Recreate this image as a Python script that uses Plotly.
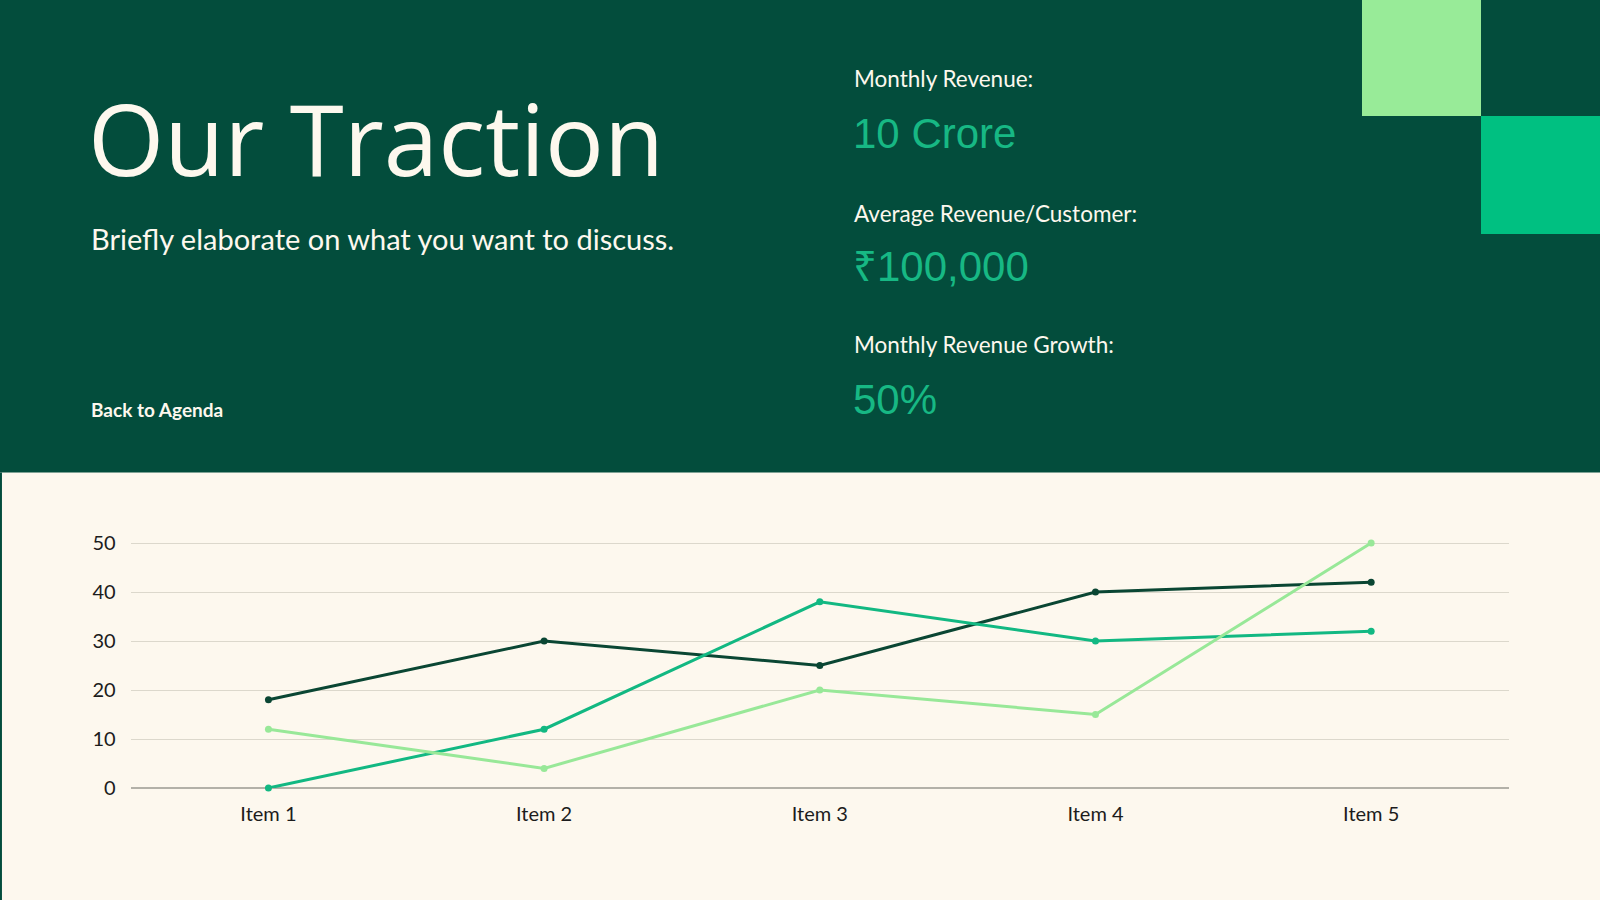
import plotly.graph_objects as go

# chart data
items = ["Item 1", "Item 2", "Item 3", "Item 4", "Item 5"]
series_dark = [18, 30, 25, 40, 42]
series_mid = [0, 12, 38, 30, 32]
series_light = [12, 4, 20, 15, 50]
y_ticks = [0, 10, 20, 30, 40, 50]

# slide text
title = "Our Traction"
subtitle = "Briefly elaborate on what you want to discuss."
back_link = "Back to Agenda"
stat_labels = ["Monthly Revenue:", "Average Revenue/Customer:", "Monthly Revenue Growth:"]
stat_values = ["10 Crore", "₹100,000", "50%"]

W, H = 1600, 900
DARK = "#034d3c"
CREAM = "#fdf8ee"
NUM_GREEN = "#17b884"


def fx(px):
    return px / W


def fy(py):
    # pixel from top -> paper fraction from bottom
    return 1 - py / H


fig = go.Figure()

lines = [
    (series_dark, "#0a4633"),
    (series_mid, "#12b882"),
    (series_light, "#98e898"),
]
for vals, col in lines:
    fig.add_trace(go.Scatter(
        x=items, y=vals, mode="lines+markers",
        line=dict(color=col, width=3),
        marker=dict(color=col, size=7),
        cliponaxis=False, hoverinfo="x+y",
    ))

# background blocks
shapes = [
    dict(type="rect", xref="paper", yref="paper", x0=0, x1=1, y0=fy(472.5), y1=1,
         fillcolor=DARK, line_width=0, layer="below"),
    dict(type="rect", xref="paper", yref="paper", x0=fx(1362), x1=fx(1481), y0=fy(116), y1=1,
         fillcolor="#98eb98", line_width=0, layer="below"),
    dict(type="rect", xref="paper", yref="paper", x0=fx(1481), x1=1, y0=fy(234), y1=fy(116),
         fillcolor="#00c081", line_width=0, layer="below"),
    dict(type="line", xref="paper", yref="paper", x0=0.0006, x1=0.0006, y0=0, y1=fy(472.5),
         line=dict(color=DARK, width=2), layer="below"),
]

annotations = [
    dict(text=title, x=fx(86), y=fy(138), xanchor="left", yanchor="middle",
         font=dict(family="Open Sans", size=98, color=CREAM)),
    dict(text=subtitle, x=fx(89), y=fy(238), xanchor="left", yanchor="middle",
         font=dict(family="Lato", size=29, color=CREAM)),
    dict(text="<b>" + back_link + "</b>", x=fx(89), y=fy(410), xanchor="left", yanchor="middle",
         font=dict(family="Lato", size=19, color=CREAM)),
]
label_y = [79, 213, 344]
value_y = [134, 267, 399]
for lab, val, ly, vy in zip(stat_labels, stat_values, label_y, value_y):
    annotations.append(dict(text=lab, x=fx(852), y=fy(ly), xanchor="left", yanchor="middle",
                            font=dict(family="Lato", size=22.5, color=CREAM)))
    annotations.append(dict(text=val, x=fx(851), y=fy(vy), xanchor="left", yanchor="middle",
                            font=dict(family="Liberation Sans", size=42, color=NUM_GREEN)))
for a in annotations:
    a.update(xref="paper", yref="paper", showarrow=False)

fig.update_layout(
    width=W, height=H, autosize=False,
    margin=dict(l=0, r=0, t=0, b=0, pad=0),
    paper_bgcolor=CREAM, plot_bgcolor=CREAM,
    showlegend=False,
    shapes=shapes, annotations=annotations,
    font=dict(family="Lato", color="#1c1c1c"),
    xaxis=dict(
        domain=[fx(130.6), fx(1509)], range=[-0.5, 4.5], automargin=False,
        showgrid=False, zeroline=False, showline=False,
        tickfont=dict(size=20, color="#1c1c1c"), ticks="", ticklabelstandoff=12,
    ),
    yaxis=dict(
        domain=[fy(788), fy(538.1)], range=[0, 51], automargin=False,
        tickvals=y_ticks, showgrid=True, gridcolor="#dcd8cc", gridwidth=1,
        zeroline=True, zerolinecolor="#b3b1a8", zerolinewidth=1.5,
        showline=False, tickfont=dict(size=20, color="#1c1c1c"), ticks="",
        ticklabelstandoff=14,
    ),
)

fig.write_html(
    "out.html",
    config={"displayModeBar": False},
    post_script=(
        "document.body.style.margin='0px';"
        "document.body.style.background='" + CREAM + "';"
        "var gd=document.getElementById('{plot_id}');"
        "gd.style.position='fixed';gd.style.top='0px';gd.style.left='0px';"
    ),
)
